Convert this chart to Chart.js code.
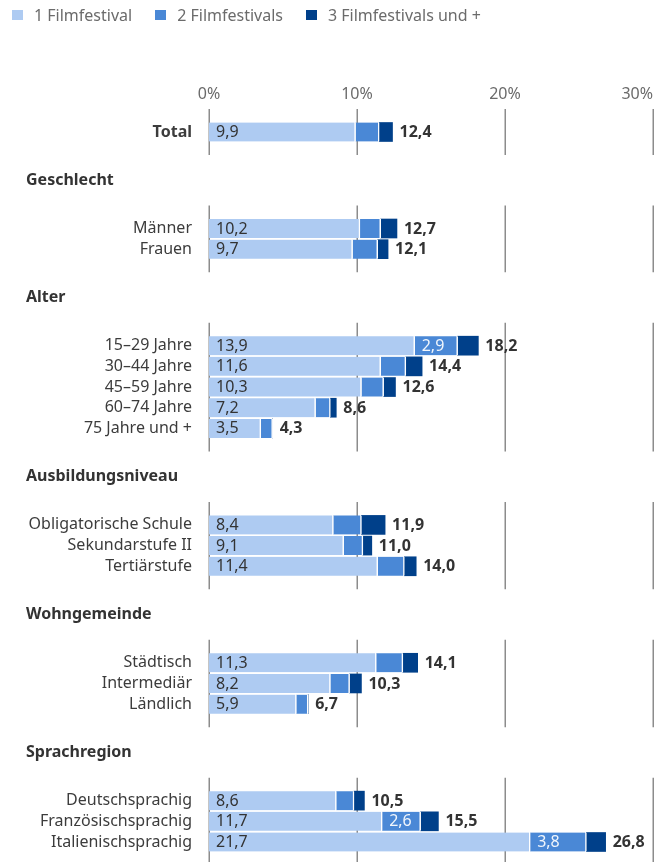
<!DOCTYPE html>
<html>
<head>
<meta charset="utf-8">
<script src="https://cdn.jsdelivr.net/npm/chart.js@4/dist/chart.umd.min.js"></script>
<style>
  html, body { margin: 0; padding: 0; background: #fff; }
  #wrap { position: relative; width: 661px; height: 862px; }
  #legend {
    position: absolute; left: 12px; top: 4px;
    display: flex; align-items: center;
    font-family: 'Noto Sans', sans-serif; font-size: 16px; color: #6b6b6b;
  }
  .item { display: flex; align-items: center; margin-right: 23px; }
  .box { width: 10.5px; height: 10.5px; margin-right: 11.5px; }
</style>
</head>
<body>
<div id="wrap">
  <div id="legend"></div>
  <canvas id="chart" width="661" height="862"></canvas>
</div>
<script>
const seriesNames = ['1 Filmfestival', '2 Filmfestivals', '3 Filmfestivals und +'];
const seriesColors = ['#aecbf2', '#4a88d6', '#00408a'];

const groupHeaders = ['', 'Geschlecht', 'Alter', 'Ausbildungsniveau', 'Wohngemeinde', 'Sprachregion'];
const groupSizes = [1, 2, 5, 3, 3, 3];

const categories = [
  'Total',
  'Männer', 'Frauen',
  '15–29 Jahre', '30–44 Jahre', '45–59 Jahre', '60–74 Jahre', '75 Jahre und +',
  'Obligatorische Schule', 'Sekundarstufe II', 'Tertiärstufe',
  'Städtisch', 'Intermediär', 'Ländlich',
  'Deutschsprachig', 'Französischsprachig', 'Italienischsprachig'
];
const one   = [9.9, 10.2, 9.7, 13.9, 11.6, 10.3, 7.2, 3.5, 8.4, 9.1, 11.4, 11.3, 8.2, 5.9, 8.6, 11.7, 21.7];
const two   = [1.6, 1.4, 1.7, 2.9, 1.7, 1.5, 1.0, 0.8, 1.9, 1.3, 1.8, 1.8, 1.3, 0.8, 1.2, 2.6, 3.8];
const three = [0.9, 1.1, 0.7, 1.4, 1.1, 0.8, 0.4, 0, 1.6, 0.6, 0.8, 1.0, 0.8, 0, 0.7, 1.2, 1.3];
const totals = [12.4, 12.7, 12.1, 18.2, 14.4, 12.6, 8.6, 4.3, 11.9, 11.0, 14.0, 14.1, 10.3, 6.7, 10.5, 15.5, 26.8];
const xTicks = [0, 10, 20, 30];

const FONT = "'Noto Sans', sans-serif";
const SIZE = 16;

// rows sit on a fine category grid: 3 slots between rows, 7 slots to/from a group header
const ROW = 3, GAP = 7;
const rowPos = [], headerPos = [], groupSpan = [];
let p = 0;
groupSizes.forEach((n, g) => {
  if (g > 0) { p += GAP; headerPos.push(p); p += GAP; }
  for (let k = 0; k < n; k++) {
    if (k > 0) p += ROW;
    rowPos.push(p);
  }
  groupSpan.push([rowPos[rowPos.length - n], p]);
});
const slotLabels = new Array(p + 1).fill('');
rowPos.forEach((q, i) => { slotLabels[q] = categories[i]; });

function spread(values) {
  const arr = new Array(p + 1).fill(null);
  rowPos.forEach((q, i) => { arr[q] = values[i]; });
  return arr;
}
const fmt = v => v.toFixed(1).replace('.', ',');

// legend in html
const legendEl = document.getElementById('legend');
seriesNames.forEach((name, i) => {
  const item = document.createElement('div');
  item.className = 'item';
  item.innerHTML = `<span class="box" style="background:${seriesColors[i]}"></span><span>${name}</span>`;
  legendEl.appendChild(item);
});

const segmentGrid = {
  id: 'segmentGrid',
  beforeDatasetsDraw(c) {
    const { ctx, scales: { x, y } } = c;
    ctx.save();
    ctx.strokeStyle = '#8c8c8c';
    ctx.lineWidth = 1.5;
    groupSpan.forEach(([a, b]) => {
      const top = y.getPixelForValue(a) - 23;
      const bottom = y.getPixelForValue(b) + 23;
      x.ticks.forEach(t => {
        const px = Math.round(x.getPixelForValue(t.value)) + 0.25;
        ctx.beginPath();
        ctx.moveTo(px, top);
        ctx.lineTo(px, bottom);
        ctx.stroke();
      });
    });
    // x tick labels, the last one kept inside the plot
    ctx.fillStyle = '#6b6b6b';
    ctx.font = `${SIZE}px ${FONT}`;
    ctx.textBaseline = 'middle';
    x.ticks.forEach((t, i) => {
      ctx.textAlign = i === x.ticks.length - 1 ? 'right' : 'center';
      ctx.fillText(t.value + '%', x.getPixelForValue(t.value), 94);
    });
    // group headers
    ctx.fillStyle = '#333';
    ctx.font = `bold ${SIZE}px ${FONT}`;
    ctx.textAlign = 'left';
    headerPos.forEach((q, g) => {
      ctx.fillText(groupHeaders[g + 1], 26, y.getPixelForValue(q));
    });
    ctx.restore();
  }
};

const valueLabels = {
  id: 'valueLabels',
  afterDatasetsDraw(c) {
    const { ctx, scales: { x } } = c;
    const m0 = c.getDatasetMeta(0), m1 = c.getDatasetMeta(1);
    ctx.save();
    ctx.textAlign = 'left';
    ctx.textBaseline = 'middle';
    rowPos.forEach((q, i) => {
      const e0 = m0.data[q], e1 = m1.data[q];
      ctx.font = `${SIZE}px ${FONT}`;
      ctx.fillStyle = '#333';
      ctx.fillText(fmt(one[i]), e0.base + 7, e0.y + 0.5);
      if (two[i] >= 2.5) {
        ctx.fillStyle = 'rgba(255,255,255,0.92)';
        ctx.fillText(fmt(two[i]), e1.base + 7, e1.y + 0.5);
      }
      ctx.font = `bold ${SIZE}px ${FONT}`;
      ctx.fillStyle = '#333';
      ctx.fillText(fmt(totals[i]), x.getPixelForValue(totals[i]) + 7, e0.y + 0.5);
    });
    ctx.restore();
  }
};

const datasets = [one, two, three].map((vals, i) => ({
  label: seriesNames[i],
  data: spread(vals),
  backgroundColor: seriesColors[i],
  borderColor: '#fff',
  borderWidth: i < 2 ? { top: 0, bottom: 0, left: 0, right: 1.5 } : 0,
  borderSkipped: 'start',
  barThickness: 19,
  clip: false
}));

new Chart(document.getElementById('chart'), {
  type: 'bar',
  data: { labels: slotLabels, datasets },
  options: {
    indexAxis: 'y',
    responsive: false,
    devicePixelRatio: 1,
    animation: false,
    layout: { padding: { top: 80, right: 8, bottom: 20, left: 0 } },
    scales: {
      x: {
        type: 'linear',
        position: 'top',
        stacked: true,
        min: 0,
        max: 30,
        afterBuildTicks: s => { s.ticks = xTicks.map(v => ({ value: v })); },
        afterFit: s => { s.height = 52; s.paddingLeft = 0; s.paddingRight = 0; },
        grid: { display: false, drawTicks: false },
        border: { display: false },
        ticks: { display: false }
      },
      y: {
        stacked: true,
        offset: false,
        afterFit: s => { s.width = 209; s.paddingTop = 0; s.paddingBottom = 0; },
        grid: { display: false, drawTicks: false },
        border: { display: false },
        ticks: {
          autoSkip: false,
          padding: 17,
          color: '#3c3c3c',
          font: ctx => ({
            family: FONT,
            size: SIZE,
            weight: ctx.tick && ctx.tick.label === 'Total' ? 'bold' : 'normal'
          })
        }
      }
    },
    plugins: {
      legend: { display: false },
      tooltip: { enabled: false }
    }
  },
  plugins: [segmentGrid, valueLabels]
});
</script>
</body>
</html>
